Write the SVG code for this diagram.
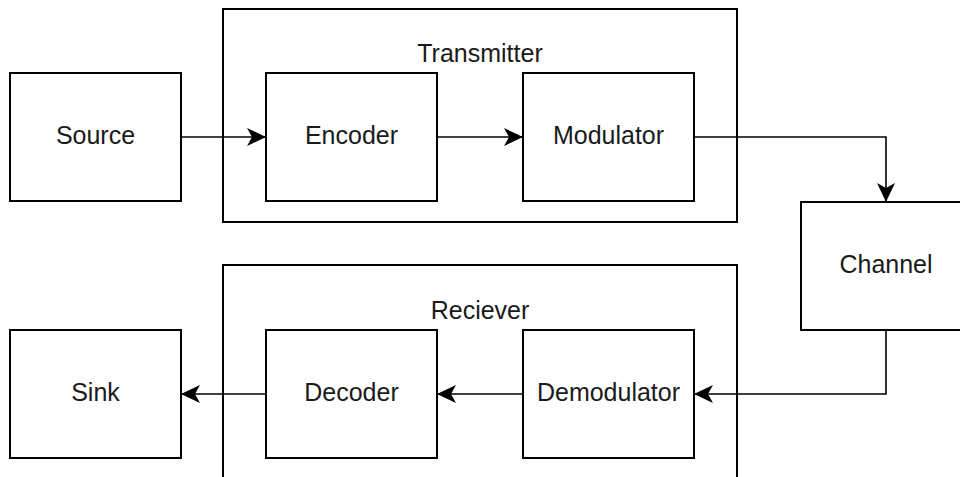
<svg xmlns="http://www.w3.org/2000/svg" width="960" height="477" viewBox="0 0 960 477">
<style>
.box{fill:#fff;stroke:#000;stroke-width:2}
.cont{fill:none;stroke:#000;stroke-width:2}
.lbl{font-family:"Liberation Sans",Arial,sans-serif;font-size:25px;fill:#1a1a1a;text-anchor:middle}
.edge{fill:none;stroke:#000;stroke-width:1.6;marker-end:url(#arr)}
</style>
<defs>
<marker id="arr" markerUnits="userSpaceOnUse" viewBox="0 0 20 18" markerWidth="20" markerHeight="18" refX="19" refY="9" orient="auto">
<path d="M0,0 L19,9 L0,18 L5,9 Z" fill="#000"/>
</marker>
</defs>
<rect width="960" height="477" fill="#fff"/>
<g id="transmitter">
<rect class="cont" x="223" y="9" width="514" height="213"/>
<text class="lbl" x="480" y="62">Transmitter</text>
</g>
<g id="receiver">
<rect class="cont" x="223" y="265" width="514" height="260"/>
<text class="lbl" x="480" y="319">Reciever</text>
</g>
<g id="source">
<rect class="box" x="10" y="73" width="171" height="128"/>
<text class="lbl" x="95.5" y="143.5">Source</text>
</g>
<g id="encoder">
<rect class="box" x="266" y="73" width="171" height="128"/>
<text class="lbl" x="351.5" y="143.5">Encoder</text>
</g>
<g id="modulator">
<rect class="box" x="523" y="73" width="171" height="128"/>
<text class="lbl" x="608.5" y="143.5">Modulator</text>
</g>
<g id="channel">
<rect class="box" x="801" y="202" width="170" height="128"/>
<text class="lbl" x="886" y="273">Channel</text>
</g>
<g id="sink">
<rect class="box" x="10" y="330" width="171" height="128"/>
<text class="lbl" x="95.5" y="401">Sink</text>
</g>
<g id="decoder">
<rect class="box" x="266" y="330" width="171" height="128"/>
<text class="lbl" x="351.5" y="401">Decoder</text>
</g>
<g id="demodulator">
<rect class="box" x="523" y="330" width="171" height="128"/>
<text class="lbl" x="608.5" y="401">Demodulator</text>
</g>
<g id="connectors">
<path class="edge" d="M181,137 H266"/>
<path class="edge" d="M437,137 H523"/>
<path class="edge" d="M694,137 H886 V202"/>
<path class="edge" d="M886,330 V394 H694"/>
<path class="edge" d="M523,394 H437"/>
<path class="edge" d="M266,394 H181"/>
</g>
</svg>
